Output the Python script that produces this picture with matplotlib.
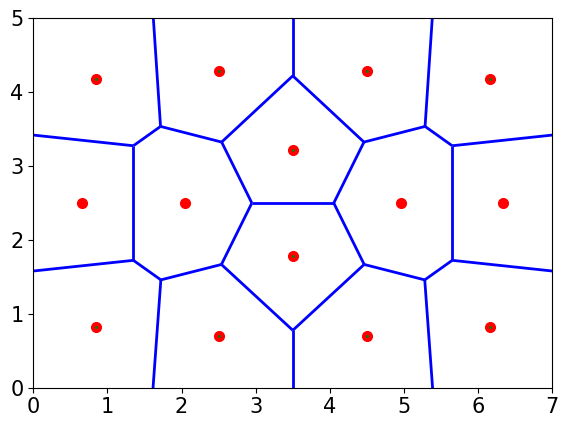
import matplotlib
matplotlib.use("Agg")
import matplotlib.pyplot as plt
import numpy as np

# generator points
pts_x = [0.84, 2.50, 4.50, 6.16,
         0.66, 2.04, 3.50, 3.50, 4.96, 6.34,
         0.84, 2.50, 4.50, 6.16]
pts_y = [4.18, 4.29, 4.29, 4.18,
         2.50, 2.50, 3.22, 1.78, 2.50, 2.50,
         0.82, 0.70, 0.70, 0.82]
# points that show a small green centre
green_idx = [0, 1, 2, 3, 6, 7, 10, 11, 12, 13]

pts = np.column_stack([pts_x, pts_y])


def clip(poly, labels, n, c, lab):
    # keep the side n.p <= c, tag the new edge with lab
    out, out_lab = [], []
    m = len(poly)
    for i in range(m):
        P, Q, L = poly[i], poly[(i + 1) % m], labels[i]
        dP, dQ = n @ P - c, n @ Q - c
        if dP <= 0:
            out.append(P)
            if dQ <= 0:
                out_lab.append(L)
            else:
                out_lab.append(L)
                t = dP / (dP - dQ)
                out.append(P + t * (Q - P))
                out_lab.append(lab)
        elif dQ <= 0:
            t = dP / (dP - dQ)
            out.append(P + t * (Q - P))
            out_lab.append(L)
    return out, out_lab


# voronoi cells by half-plane clipping of a big box
segments = []
for i, p in enumerate(pts):
    poly = [np.array(v, float) for v in [(-50, -50), (50, -50), (50, 50), (-50, 50)]]
    labels = [-1, -1, -1, -1]
    for j, q in enumerate(pts):
        if j == i:
            continue
        n = q - p
        c = n @ (p + q) / 2
        poly, labels = clip(poly, labels, n, c, j)
    for k in range(len(poly)):
        if labels[k] > i:
            segments.append((poly[k], poly[(k + 1) % len(poly)]))

fig = plt.figure(figsize=(5.68, 4.28), dpi=100)
ax = fig.add_axes([0.0586, 0.0942, 0.9138, 0.8628])

for a, b in segments:
    ax.plot([a[0], b[0]], [a[1], b[1]], color="blue", lw=2, solid_capstyle="butt")

ax.plot(pts_x, pts_y, "o", color="red", ms=7)
ax.plot([pts_x[k] for k in green_idx], [pts_y[k] for k in green_idx],
        ".", color="green", ms=2)

ax.set_xlim(0, 7)
ax.set_ylim(0, 5)
ax.set_xticks(range(8))
ax.set_yticks(range(6))
ax.tick_params(labelsize=15)

fig.savefig("out.png", dpi=100)
